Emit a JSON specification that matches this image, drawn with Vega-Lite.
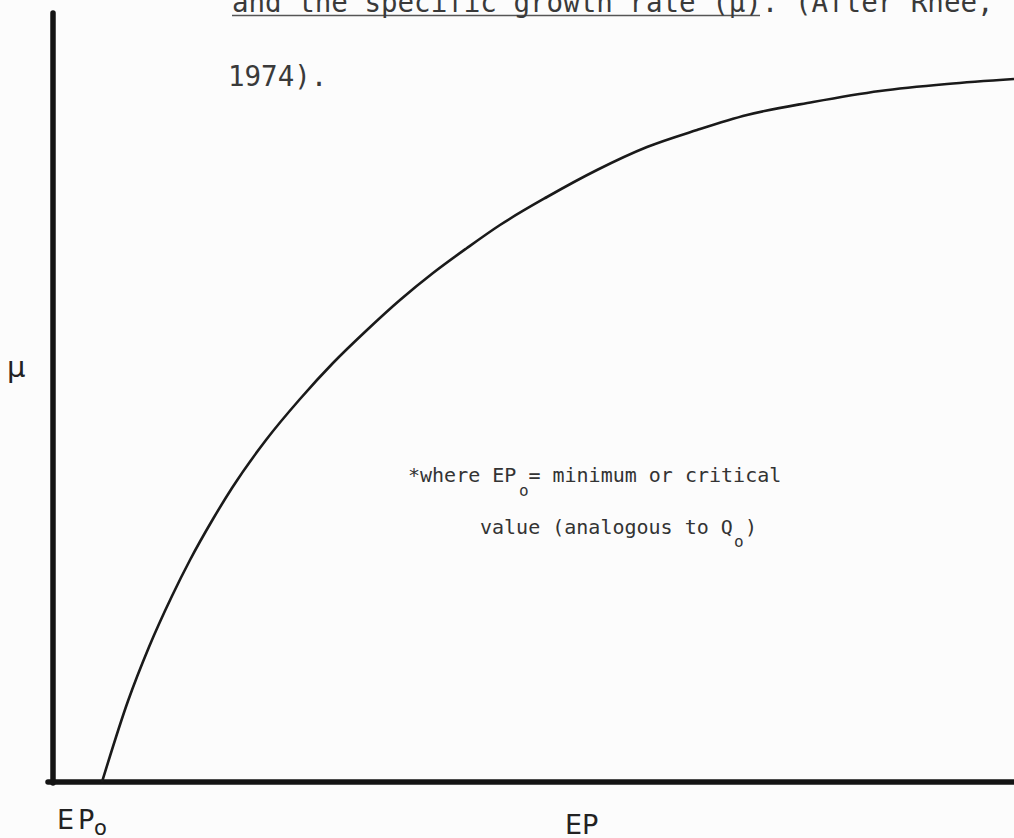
{
  "$schema": "https://vega.github.io/schema/vega-lite/v6.json",
  "width": 1014,
  "height": 838,
  "autosize": {"type": "none"},
  "padding": 0,
  "background": "#fcfcfc",
  "config": {"view": {"stroke": null}},
  "datasets": {
    "axesLines": [
      {"x": 0, "y": -0.01, "x2": 0, "y2": 7.69},
      {"x": -0.05, "y": 0, "x2": 9.7, "y2": 0}
    ],
    "underline": [
      {"x": 1.79, "y": 7.665, "x2": 7.07, "y2": 7.665}
    ],
    "curve": [
      {"ep": 0.49, "mu": 0.0},
      {"ep": 0.75, "mu": 0.81},
      {"ep": 0.96, "mu": 1.35},
      {"ep": 1.19, "mu": 1.86},
      {"ep": 1.37, "mu": 2.22},
      {"ep": 1.6, "mu": 2.63},
      {"ep": 1.79, "mu": 2.94},
      {"ep": 2.13, "mu": 3.42},
      {"ep": 2.47, "mu": 3.83},
      {"ep": 2.8, "mu": 4.19},
      {"ep": 3.14, "mu": 4.52},
      {"ep": 3.47, "mu": 4.82},
      {"ep": 3.8, "mu": 5.09},
      {"ep": 4.14, "mu": 5.34},
      {"ep": 4.47, "mu": 5.57},
      {"ep": 4.94, "mu": 5.85},
      {"ep": 5.44, "mu": 6.12},
      {"ep": 5.94, "mu": 6.35},
      {"ep": 6.44, "mu": 6.52},
      {"ep": 6.94, "mu": 6.67},
      {"ep": 7.6, "mu": 6.8},
      {"ep": 8.27, "mu": 6.91},
      {"ep": 8.94, "mu": 6.98},
      {"ep": 9.61, "mu": 7.03}
    ],
    "caption": [
      {"x": 1.79, "y": 7.7, "label": "and the specific growth rate (μ).  (After Rhee,"},
      {"x": 1.75, "y": 6.96, "label": "1974)."}
    ],
    "note": [
      {"x": 3.55, "y": 3.0, "label": "*where EP  = minimum or critical"},
      {"x": 4.27, "y": 2.48, "label": "value (analogous to Q )"}
    ],
    "noteSub": [
      {"x": 4.66, "y": 2.86, "label": "o"},
      {"x": 6.81, "y": 2.35, "label": "o"}
    ],
    "axisText": [
      {"x": 0.04, "y": -0.47, "label": "E"},
      {"x": 0.25, "y": -0.47, "label": "P"},
      {"x": 5.12, "y": -0.52, "label": "EP"}
    ],
    "muLabel": [
      {"x": -0.46, "y": 4.05, "label": "μ"}
    ],
    "axisSub": [
      {"x": 0.41, "y": -0.53, "label": "o"}
    ]
  },
  "layer": [
    {
      "data": {"name": "axesLines"},
      "mark": {"type": "rule", "color": "#141414", "strokeWidth": 5.5, "strokeCap": "round"},
      "encoding": {
        "x": {"field": "x", "type": "quantitative", "scale": {"domain": [-0.53, 9.61], "nice": false, "zero": false}, "axis": null},
        "y": {"field": "y", "type": "quantitative", "scale": {"domain": [-0.56, 7.82], "nice": false, "zero": false}, "axis": null},
        "x2": {"field": "x2"},
        "y2": {"field": "y2"}
      }
    },
    {
      "data": {"name": "underline"},
      "mark": {"type": "rule", "color": "#555555", "strokeWidth": 1.5},
      "encoding": {
        "x": {"field": "x", "type": "quantitative"},
        "y": {"field": "y", "type": "quantitative"},
        "x2": {"field": "x2"},
        "y2": {"field": "y2"}
      }
    },
    {
      "data": {"name": "curve"},
      "mark": {"type": "line", "color": "#1a1a1a", "strokeWidth": 2.6, "interpolate": "monotone", "clip": true},
      "encoding": {
        "x": {"field": "ep", "type": "quantitative"},
        "y": {"field": "mu", "type": "quantitative"}
      }
    },
    {
      "data": {"name": "caption"},
      "mark": {"type": "text", "align": "left", "baseline": "alphabetic", "font": "DejaVu Sans Mono", "fontSize": 27.5, "color": "#3a3a3a"},
      "encoding": {
        "x": {"field": "x", "type": "quantitative"},
        "y": {"field": "y", "type": "quantitative"},
        "text": {"field": "label"}
      }
    },
    {
      "data": {"name": "note"},
      "mark": {"type": "text", "align": "left", "baseline": "alphabetic", "font": "DejaVu Sans Mono", "fontSize": 20, "color": "#333333"},
      "encoding": {
        "x": {"field": "x", "type": "quantitative"},
        "y": {"field": "y", "type": "quantitative"},
        "text": {"field": "label"}
      }
    },
    {
      "data": {"name": "noteSub"},
      "mark": {"type": "text", "align": "left", "baseline": "alphabetic", "font": "DejaVu Sans Mono", "fontSize": 16, "color": "#333333"},
      "encoding": {
        "x": {"field": "x", "type": "quantitative"},
        "y": {"field": "y", "type": "quantitative"},
        "text": {"field": "label"}
      }
    },
    {
      "data": {"name": "axisText"},
      "mark": {"type": "text", "align": "left", "baseline": "alphabetic", "font": "DejaVu Sans", "fontSize": 27, "color": "#222222"},
      "encoding": {
        "x": {"field": "x", "type": "quantitative"},
        "y": {"field": "y", "type": "quantitative"},
        "text": {"field": "label"}
      }
    },
    {
      "data": {"name": "muLabel"},
      "mark": {"type": "text", "align": "left", "baseline": "alphabetic", "font": "DejaVu Sans", "fontSize": 29, "color": "#222222"},
      "encoding": {
        "x": {"field": "x", "type": "quantitative"},
        "y": {"field": "y", "type": "quantitative"},
        "text": {"field": "label"}
      }
    },
    {
      "data": {"name": "axisSub"},
      "mark": {"type": "text", "align": "left", "baseline": "alphabetic", "font": "DejaVu Sans", "fontSize": 21, "color": "#222222"},
      "encoding": {
        "x": {"field": "x", "type": "quantitative"},
        "y": {"field": "y", "type": "quantitative"},
        "text": {"field": "label"}
      }
    }
  ]
}
